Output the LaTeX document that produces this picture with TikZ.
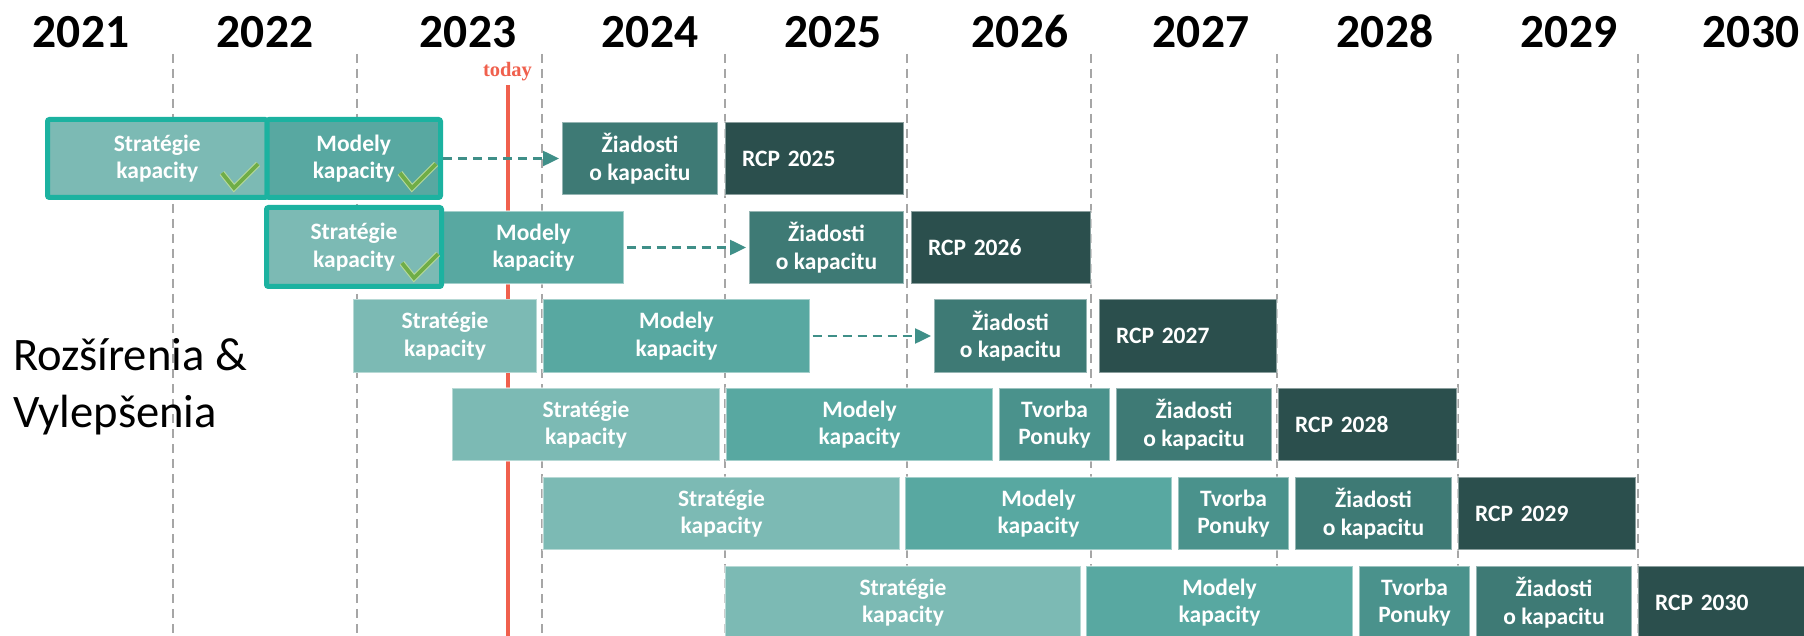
\documentclass[tikz,border=0pt]{standalone}
\usepackage{fontspec}
\setmainfont{Carlito}
\newfontfamily\todayfont{Liberation Serif}
\usetikzlibrary{arrows.meta,calc}
\definecolor{cS}{HTML}{7CBAB4}
\definecolor{cM}{HTML}{58A8A1}
\definecolor{cT}{HTML}{4A928C}
\definecolor{cZ}{HTML}{3E7A75}
\definecolor{cR}{HTML}{2B4F4D}
\definecolor{cHL}{HTML}{1CB2A0}
\definecolor{cArrow}{HTML}{3F8F88}
\definecolor{cGrid}{HTML}{A6A6A6}
\definecolor{cRed}{HTML}{F0604D}
\definecolor{cChk}{HTML}{70AD47}
\definecolor{cChkB}{HTML}{B5D99C}
\newcommand{\tb}[6]{\node[#1, minimum width={(#4-#3)*1pt}] (#2) at (#3,#5) {#6};}
\newcommand{\rcpbox}[5]{\node[rcp, text width={(#3-#2-34)*1pt}] (#1) at (#2,#4) {\mbox{#5}};}
\newcommand{\chk}[2]{%
  \draw[chkb] (#1,#2) -- ++(12,15) -- ++(24,-24);
  \draw[chkf] (#1,#2) -- ++(12,15) -- ++(24,-24);}
\begin{document}
\begin{tikzpicture}[x=1pt,y=-1pt,
  box/.style={rectangle, anchor=north west, inner sep=0pt, outer sep=0pt,
    minimum height=73pt, text=white, align=center,
    font=\fontsize{23.5}{27.5}\selectfont\bfseries,
    draw=white, draw opacity=0.45, line width=1.2pt},
  hl/.style={box, draw=cHL, draw opacity=1, line width=5pt, rounded corners=2pt},
  rcp/.style={box, fill=cR, align=left, inner xsep=17pt},
  year/.style={anchor=base, inner sep=0pt, font=\fontsize{47.5}{50}\selectfont\bfseries},
  side/.style={anchor=base west, inner sep=0pt, font=\fontsize{46.6}{56}\selectfont},
  grid/.style={draw=cGrid, line width=2pt, dash pattern=on 9pt off 6pt},
  redline/.style={draw=cRed, line width=4pt},
  flow/.style={draw=cArrow, line width=2.5pt, dash pattern=on 9pt off 6pt,
    -{Triangle[length=16pt,width=15pt]}, shorten <=2.5pt, shorten >=3pt},
  chkb/.style={draw=cChkB, line width=6pt, line join=miter},
  chkf/.style={draw=cChk, line width=3.8pt, line join=miter}]
\clip (0,0) rectangle (1804,636);
\fill[white] (0,0) rectangle (1804,636);
% grid
\foreach \gx in {173,357,542,724.5,907,1090.5,1277,1458,1638}
  \draw[grid] (\gx,54) -- (\gx,636);
% years
\node[year] (y21) at (81,48) {2021};
\node[year] (y22) at (265,48) {2022};
\node[year] (y23) at (468,48) {2023};
\node[year] (y24) at (650,48) {2024};
\node[year] (y25) at (833,48) {2025};
\node[year] (y26) at (1020,48) {2026};
\node[year] (y27) at (1201,48) {2027};
\node[year] (y28) at (1385,48) {2028};
\node[year] (y29) at (1569,48) {2029};
\node[year] (y30) at (1751,48) {2030};
% today
\node[anchor=base, inner sep=0pt, text=cRed, font=\todayfont\fontsize{20.5}{22}\selectfont\bfseries] (today) at (507.5,77) {today};
\coordinate (rtop) at (508,85);
\coordinate (rbot) at (508,636);
\draw[redline] (rtop) -- (rbot);
% side label
\node[side] (rozs) at (13,370) {Rozšírenia \&};
\node[side] (vyl) at (13,427) {Vylepšenia};
% row 1
\tb{hl, fill=cS, minimum height=78pt}{s1}{47.5}{267}{119.5}{Stratégie\\kapacity}
\tb{hl, fill=cM, minimum height=78pt}{m1}{267}{440.5}{119.5}{Modely\\kapacity}
\tb{box, fill=cZ}{z1}{562}{718}{122}{Žiadosti\\o kapacitu}
\rcpbox{r1}{725}{904}{122}{RCP 2025}
% row 2
\tb{box, fill=cM}{m2}{443}{624}{211}{Modely\\kapacity}
\tb{hl, fill=cS, minimum height=79pt}{s2}{266.5}{441.5}{207.5}{Stratégie\\kapacity}
\tb{box, fill=cZ}{z2}{749}{904}{211}{Žiadosti\\o kapacitu}
\rcpbox{r2}{911}{1091}{211}{RCP 2026}
% row 3
\tb{box, fill=cS}{s3}{353}{537}{299.5}{Stratégie\\kapacity}
\tb{box, fill=cM}{m3}{543}{810}{299.5}{Modely\\kapacity}
\tb{box, fill=cZ}{z3}{934}{1087}{299.5}{Žiadosti\\o kapacitu}
\rcpbox{r3}{1099}{1277}{299.5}{RCP 2027}
% row 4
\tb{box, fill=cS}{s4}{452}{720}{388}{Stratégie\\kapacity}
\tb{box, fill=cM}{m4}{726}{993}{388}{Modely\\kapacity}
\tb{box, fill=cT}{t4}{999}{1110}{388}{Tvorba\\Ponuky}
\tb{box, fill=cZ}{z4}{1116}{1272}{388}{Žiadosti\\o kapacitu}
\rcpbox{r4}{1278}{1457}{388}{RCP 2028}
% row 5
\tb{box, fill=cS}{s5}{543}{900}{477}{Stratégie\\kapacity}
\tb{box, fill=cM}{m5}{905}{1172}{477}{Modely\\kapacity}
\tb{box, fill=cT}{t5}{1178}{1289}{477}{Tvorba\\Ponuky}
\tb{box, fill=cZ}{z5}{1295}{1452}{477}{Žiadosti\\o kapacitu}
\rcpbox{r5}{1458}{1636}{477}{RCP 2029}
% row 6
\tb{box, fill=cS}{s6}{725}{1081}{566}{Stratégie\\kapacity}
\tb{box, fill=cM}{m6}{1086}{1353}{566}{Modely\\kapacity}
\tb{box, fill=cT}{t6}{1359}{1470}{566}{Tvorba\\Ponuky}
\tb{box, fill=cZ}{z6}{1476}{1632}{566}{Žiadosti\\o kapacitu}
\rcpbox{r6}{1638}{1810}{566}{RCP 2030}
% dashed arrows
\draw[flow] (m1.east) -- (z1.west);
\draw[flow] (m2.east) -- (z2.west);
\draw[flow] (m3.east) -- (z3.west);
% check marks
\chk{222}{173}
\chk{400}{173}
\chk{402}{263}
\end{tikzpicture}
\end{document}
